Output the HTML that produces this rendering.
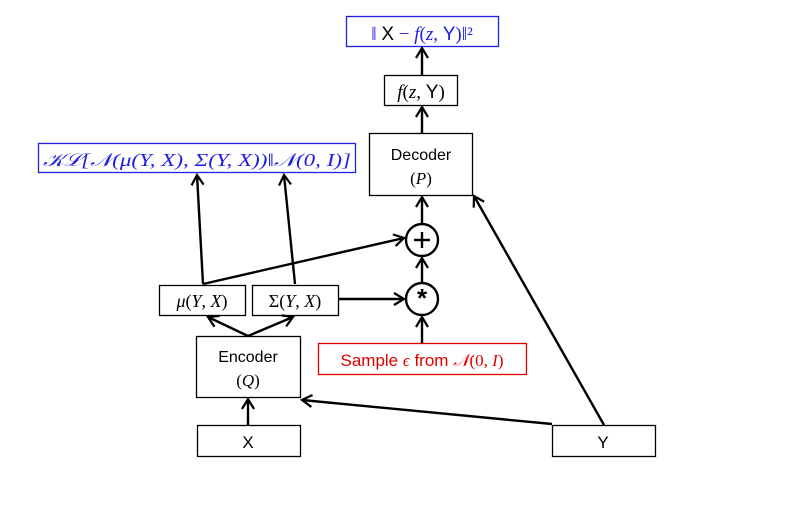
<!DOCTYPE html>
<html><head><meta charset="utf-8"><style>
html,body{margin:0;padding:0;background:#fff;}
svg{display:block;}
text{font-family:"Liberation Serif",serif;}
.s{font-family:"Liberation Sans",sans-serif;}
</style></head><body>
<svg width="803" height="526" viewBox="0 0 803 526" xmlns="http://www.w3.org/2000/svg">
<defs>
<marker id="a" markerWidth="14" markerHeight="14" refX="11" refY="7" orient="auto" markerUnits="userSpaceOnUse">
<path d="M1,1 L11,7 L1,13" fill="none" stroke="#000" stroke-width="2.2"/>
</marker>
</defs>
<g fill="#fff" stroke-width="1.3">
<rect x="346.5" y="16.5" width="152" height="30" stroke="#2020e0"/>
<rect x="384.5" y="75.5" width="73" height="30" stroke="#000"/>
<rect x="369.5" y="133.5" width="103" height="62" stroke="#000"/>
<rect x="38.5" y="143.5" width="317" height="29" stroke="#2020e0"/>
<rect x="159.5" y="285.5" width="86" height="30" stroke="#000"/>
<rect x="252.5" y="285.5" width="86" height="30" stroke="#000"/>
<rect x="196.5" y="336.5" width="104" height="61" stroke="#000"/>
<rect x="318.5" y="343.5" width="208" height="31" stroke="#e00000"/>
<rect x="197.5" y="425.5" width="103" height="31" stroke="#000"/>
<rect x="552.5" y="425.5" width="103" height="31" stroke="#000"/>
</g>
<g stroke="#000" stroke-width="2.4" fill="none">
<circle cx="422" cy="240" r="16"/>
<circle cx="422" cy="299" r="16"/>
<line x1="203" y1="284" x2="197" y2="175" marker-end="url(#a)"/>
<line x1="295" y1="284" x2="284" y2="175" marker-end="url(#a)"/>
<line x1="203" y1="284" x2="404" y2="238" marker-end="url(#a)"/>
<line x1="339" y1="299" x2="404" y2="299" marker-end="url(#a)"/>
<line x1="248" y1="336" x2="208" y2="317" marker-end="url(#a)"/>
<line x1="248" y1="336" x2="293" y2="317" marker-end="url(#a)"/>
<line x1="248" y1="425" x2="248" y2="399" marker-end="url(#a)"/>
<line x1="552" y1="424" x2="302" y2="400" marker-end="url(#a)"/>
<line x1="604" y1="425" x2="474" y2="196" marker-end="url(#a)"/>
<line x1="422" y1="343" x2="422" y2="317" marker-end="url(#a)"/>
<line x1="422" y1="283" x2="422" y2="258" marker-end="url(#a)"/>
<line x1="422" y1="224" x2="422" y2="197" marker-end="url(#a)"/>
<line x1="422" y1="133" x2="422" y2="107" marker-end="url(#a)"/>
<line x1="422" y1="75" x2="422" y2="48" marker-end="url(#a)"/>
<line x1="414" y1="240" x2="430" y2="240"/>
<line x1="422" y1="232" x2="422" y2="248"/>
</g>
<text x="422" y="307" font-size="26" text-anchor="middle" class="s" font-weight="bold">*</text>
<text x="422" y="40" font-size="19" text-anchor="middle" fill="#2020e0">‖ <tspan class="s" fill="#000">X</tspan> − <tspan font-style="italic">f</tspan>(<tspan font-style="italic">z</tspan>, <tspan class="s">Y</tspan>)‖²</text>
<text x="421" y="98" font-size="19" text-anchor="middle"><tspan font-style="italic">f</tspan>(<tspan font-style="italic">z</tspan>, <tspan class="s">Y</tspan>)</text>
<text x="421" y="160" font-size="16" text-anchor="middle" class="s">Decoder</text>
<text x="421" y="184" font-size="17" text-anchor="middle">(<tspan font-style="italic">P</tspan>)</text>
<text x="197" y="166" font-size="18" text-anchor="middle" fill="#2020e0" font-style="italic" textLength="308" lengthAdjust="spacingAndGlyphs">𝒦ℒ[𝒩(μ(Y, X), Σ(Y, X))‖𝒩(0, I)]</text>
<text x="202" y="307" font-size="18" text-anchor="middle"><tspan font-style="italic">μ</tspan>(<tspan font-style="italic">Y</tspan>, <tspan font-style="italic">X</tspan>)</text>
<text x="295" y="307" font-size="18" text-anchor="middle">Σ(<tspan font-style="italic">Y</tspan>, <tspan font-style="italic">X</tspan>)</text>
<text x="248" y="362" font-size="16" text-anchor="middle" class="s">Encoder</text>
<text x="248" y="386" font-size="17" text-anchor="middle">(<tspan font-style="italic">Q</tspan>)</text>
<text x="422" y="366" font-size="17" text-anchor="middle" fill="#e00000"><tspan class="s">Sample </tspan><tspan font-style="italic">ϵ</tspan><tspan class="s"> from </tspan><tspan font-style="italic">𝒩</tspan>(0, <tspan font-style="italic">I</tspan>)</text>
<text x="248" y="448" font-size="17" text-anchor="middle" class="s">X</text>
<text x="603" y="448" font-size="17" text-anchor="middle" class="s">Y</text>
</svg>
</body></html>
